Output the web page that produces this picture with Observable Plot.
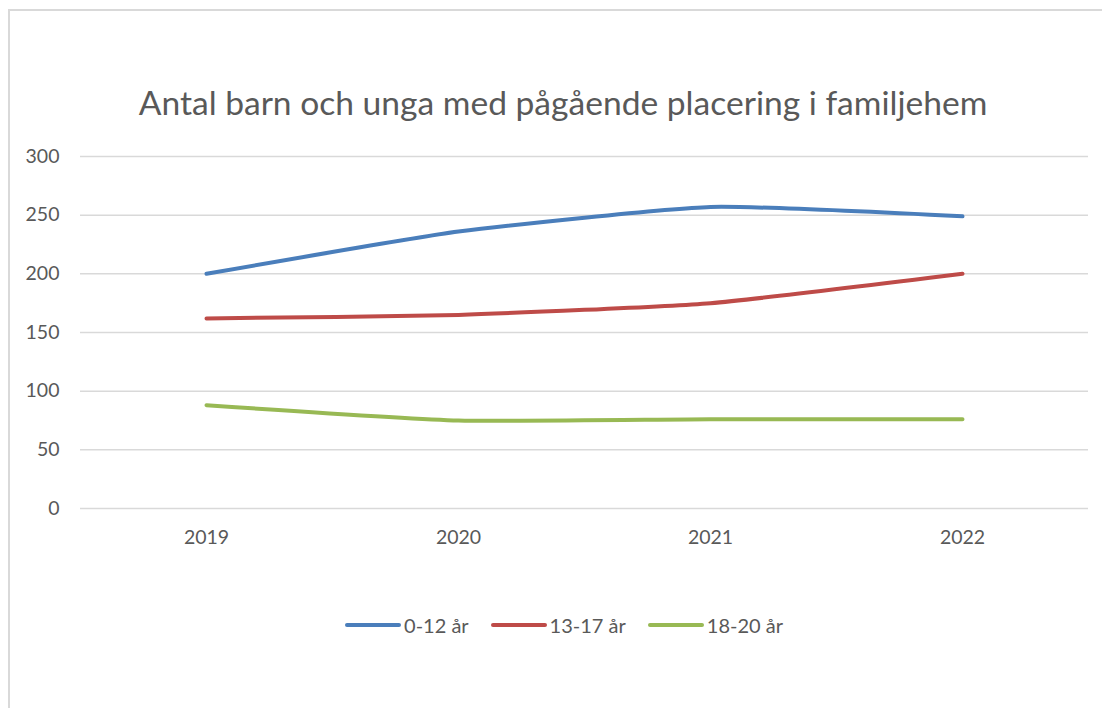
<!DOCTYPE html>
<html>
<head>
<meta charset="utf-8">
<script src="https://cdn.jsdelivr.net/npm/d3@7"></script>
<script src="https://cdn.jsdelivr.net/npm/@observablehq/plot@0.6"></script>
<style>
  html, body { margin: 0; padding: 0; background: #fff; }
  #wrap { position: relative; width: 1102px; height: 708px; overflow: hidden; font-family: Lato, "Open Sans", sans-serif; }
  #frame { position: absolute; left: 8px; top: 9px; width: 1200px; height: 800px; border-left: 2px solid #d9d9d9; border-top: 2px solid #d9d9d9; }
  #title { position: absolute; left: 0; width: 1126px; top: 86px; text-align: center; color: #595959; font-size: 33.6px; white-space: nowrap; line-height: 1; }
  #chart { position: absolute; left: 0; top: 0; }
  #legend { position: absolute; left: 0; width: 1128px; top: 613px; display: flex; justify-content: center; gap: 22px; color: #595959; font-size: 20px; }
  .item { display: flex; align-items: center; }
  .item svg { margin-right: 3px; }
</style>
</head>
<body>
<div id="wrap">
  <div id="frame"></div>
  <div id="chart"></div>
  <div id="title">Antal barn och unga med pågående placering i familjehem</div>
  <div id="legend"></div>
</div>
<script>
const years = ["2019", "2020", "2021", "2022"];
const seriesNames = ["0-12 år", "13-17 år", "18-20 år"];
const values0to12 = [200, 236, 257, 249];
const values13to17 = [162, 165, 175, 200];
const values18to20 = [88, 75, 76, 76];
const yTicks = [0, 50, 100, 150, 200, 250, 300];
const colors = ["#4A7EBB", "#BE4B48", "#98B954"];

const seriesValues = [values0to12, values13to17, values18to20];
const data = [];
seriesNames.forEach((s, i) => years.forEach((y, j) => data.push({series: s, year: y, value: seriesValues[i][j]})));

const chart = Plot.plot({
  width: 1102,
  height: 560,
  marginLeft: 80,
  marginRight: 14,
  marginTop: 156,
  marginBottom: 52,
  style: {fontFamily: "Lato, 'Open Sans', sans-serif", fontSize: "19.5px", color: "#595959", background: "transparent", overflow: "visible"},
  x: {type: "point", domain: years, padding: 0.5, label: null},
  y: {domain: [0, 300], ticks: yTicks, label: null},
  color: {domain: seriesNames, range: colors},
  marks: [
    Plot.gridY(yTicks, {stroke: "#d9d9d9", strokeOpacity: 1, strokeWidth: 1.5}),
    Plot.axisY(yTicks, {tickSize: 0, tickPadding: 21, label: null, fill: "#595959"}),
    Plot.axisX({tickSize: 0, tickPadding: 22, label: null, fill: "#595959"}),
    Plot.line(data, {x: "year", y: "value", stroke: "series", z: "series", strokeWidth: 4, curve: "cardinal", tension: 0.5, strokeLinecap: "round", strokeLinejoin: "round"})
  ]
});
document.getElementById("chart").appendChild(chart);

const legend = document.getElementById("legend");
seriesNames.forEach((s, i) => {
  const item = document.createElement("div");
  item.className = "item";
  item.innerHTML = `<svg width="56" height="8"><line x1="2" y1="4" x2="54" y2="4" stroke="${colors[i]}" stroke-width="4" stroke-linecap="round"/></svg><span>${s}</span>`;
  legend.appendChild(item);
});
</script>
</body>
</html>
